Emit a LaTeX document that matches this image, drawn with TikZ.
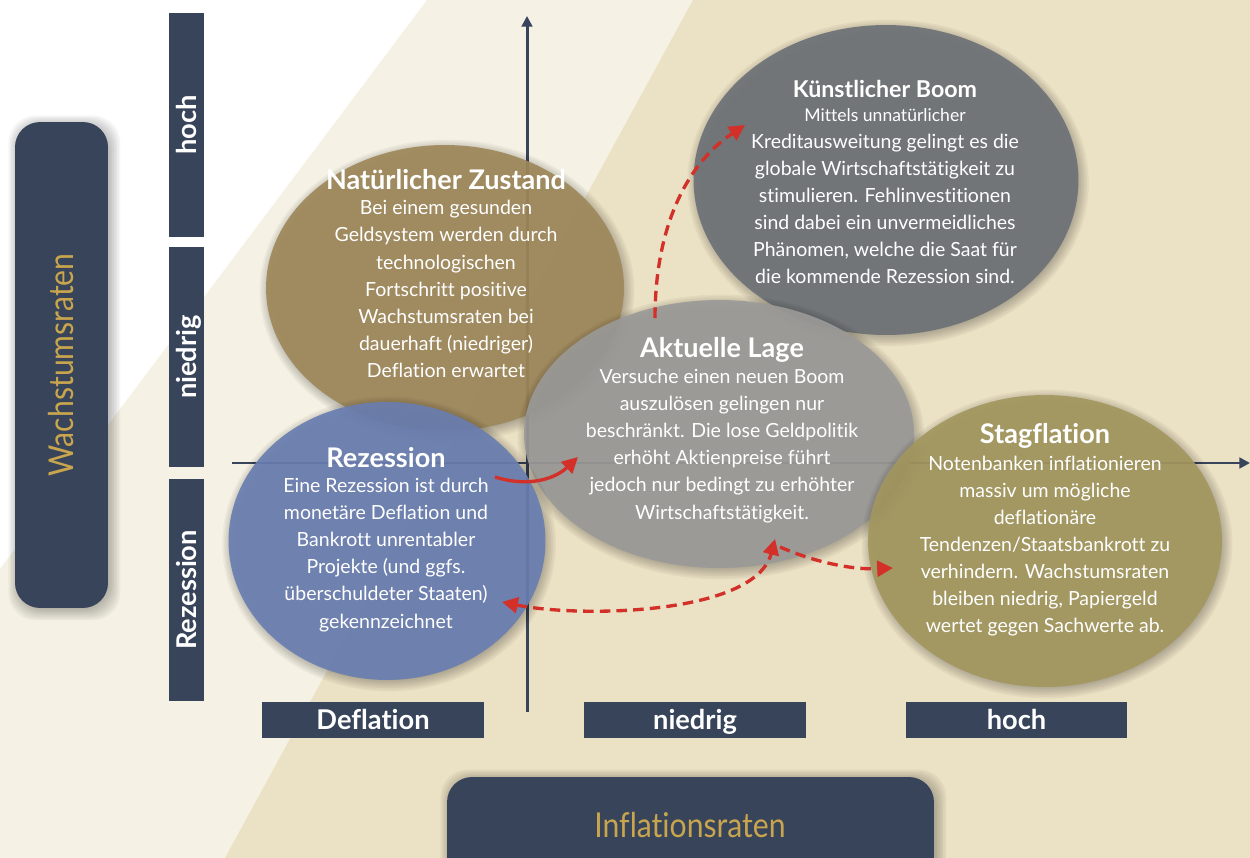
\documentclass[tikz,border=0pt]{standalone}
\usepackage{fontspec}
\setmainfont{Lato}[Ligatures=NoCommon]
\newfontfamily\goldfont{Lato}[FakeStretch=0.88,Ligatures=NoCommon]
\usetikzlibrary{shapes.geometric,arrows.meta}
\definecolor{cream}{HTML}{F5F1E4}
\definecolor{beige}{HTML}{EBE1C4}
\definecolor{navy}{HTML}{37445A}
\definecolor{gold}{HTML}{C9A64E}
\definecolor{natbrown}{HTML}{9F885B}
\definecolor{boomgray}{HTML}{6D7277}
\definecolor{lagegray}{HTML}{9B9A98}
\definecolor{rezblue}{HTML}{6A7EB0}
\definecolor{stagolive}{HTML}{A3975F}
\definecolor{arrowred}{HTML}{D3302A}
% soft shadow under an ellipse: centre x, centre y, x radius, y radius (px)
\newcommand{\ellshadow}[4]{%
  \foreach \k in {1,...,9}{%
    \fill[black, opacity=0.035] (#1+2,#2+3) ellipse [x radius={#3-6+1.6*\k}, y radius={#4-6+1.6*\k}];}}
\begin{document}
\begin{tikzpicture}[x=0.02cm,y=-0.02cm,
  bar/.style={fill=navy, inner sep=0pt, text=white, text height=11.2pt, text depth=0pt,
    font=\fontsize{15.5}{17}\selectfont\bfseries},
  vbar/.style={bar, rotate=90, minimum height=0.7cm},
  hbar/.style={bar, minimum width=4.44cm, minimum height=0.72cm},
  bigbox/.style={fill=navy, rounded corners=0.5cm, inner sep=0pt, text=gold,
    font=\goldfont\fontsize{19.5}{22}\selectfont},
  blob/.style={ellipse, inner sep=0pt, draw=none, fill opacity=0.92},
  ttl/.style={text=white, font=\fontsize{15.4}{18}\selectfont\bfseries, inner sep=0pt},
  body/.style={text=white, align=center, font=\fontsize{11.1}{15.4}\selectfont, inner sep=0pt},
  axisline/.style={draw=navy, line width=1.7pt, -{Triangle[length=6pt,width=6pt]}},
  redarrow/.style={draw=arrowred, line width=1.9pt, -{Triangle[length=9pt,width=9pt]}},
  reddash/.style={redarrow, dash pattern=on 6pt off 3.5pt}
]
\useasboundingbox (0,0) rectangle (1250,858);
% background
\fill[white] (0,0) rectangle (1250,858);
\fill[cream] (427,0) -- (1250,0) -- (1250,858) -- (0,858) -- (0,569) -- cycle;
\fill[beige] (693,0) -- (1250,0) -- (1250,858) -- (225,858) -- cycle;

% axis title boxes
\foreach \k in {1,...,9}{\fill[black, opacity=0.035, rounded corners=0.55cm] ({15+4-1.4*\k+2},{122+4-1.4*\k+2}) rectangle ({108-4+1.6*\k+2},{608-4+1.6*\k+2});}
\node[bigbox, rotate=90, minimum width=9.72cm, minimum height=1.86cm] (wachs) at (61.5,365) {Wachstumsraten};
\foreach \k in {1,...,9}{\fill[black, opacity=0.035, rounded corners=0.55cm] ({447+4-1.4*\k+2},{777+4-1.4*\k+1}) rectangle ({934-4+1.6*\k+2},{940});}
\node[bigbox, minimum width=9.74cm, minimum height=3.2cm] (inflbox) at (690.5,857) {};
\node[text=gold, font=\goldfont\fontsize{19.5}{22}\selectfont, inner sep=0pt] (infl) at (690,825) {Inflationsraten};

% level bars
\node[vbar, minimum width=4.48cm] (yhoch) at (186.5,125) {hoch};
\node[vbar, minimum width=4.40cm] (yniedrig) at (186.5,357) {niedrig};
\node[vbar, minimum width=4.44cm] (yrez) at (186.5,590) {Rezession};
\node[hbar] (xdefl) at (373,720) {Deflation};
\node[hbar] (xniedrig) at (695,720) {niedrig};
\node[hbar] (xhoch) at (1016.5,720) {hoch};

% axes
\coordinate (yb) at (527,712);
\coordinate (yt) at (527,16);
\coordinate (xl) at (232,463);
\coordinate (xr) at (1250,463);
\draw[axisline] (yb) -- (yt);
\draw[axisline] (xl) -- (xr);

% ellipses
\ellshadow{445}{288}{179}{143}
\node[blob, fill=natbrown, minimum width=7.16cm, minimum height=5.72cm] (nat) at (445,288) {};
\ellshadow{886}{180}{192.5}{155}
\node[blob, fill=boomgray, minimum width=7.70cm, minimum height=6.2cm] (boom) at (886,180) {};
\ellshadow{719}{434}{195}{134}
\node[blob, fill=lagegray, minimum width=7.8cm, minimum height=5.36cm] (lage) at (719,434) {};
\ellshadow{387}{541}{158.5}{139}
\node[blob, fill=rezblue, minimum width=6.34cm, minimum height=5.56cm] (rez) at (387,541) {};
\ellshadow{1045}{541}{177}{146}
\node[blob, fill=stagolive, minimum width=7.08cm, minimum height=5.84cm] (stag) at (1045,541) {};

% texts
\node[ttl] (natT) at (446,180) {Natürlicher Zustand};
\node[body] (natB) at (446,289) {Bei einem gesunden\\Geldsystem werden durch\\technologischen\\Fortschritt positive\\Wachstumsraten bei\\dauerhaft (niedriger)\\Deflation erwartet};

\node[ttl, font=\fontsize{13.2}{15}\selectfont\bfseries] (boomT) at (885,89) {Künstlicher Boom};
\node[body] (boomB) at (885,196) {{\fontsize{10}{12}\selectfont Mittels unnatürlicher}\\Kreditausweitung gelingt es die\\globale Wirtschaftstätigkeit zu\\stimulieren. Fehlinvestitionen\\sind dabei ein unvermeidliches\\Phänomen, welche die Saat für\\die kommende Rezession sind.};

\node[ttl] (lageT) at (722,350) {Aktuelle Lage};
\node[body] (lageB) at (722,446) {Versuche einen neuen Boom\\auszulösen gelingen nur\\beschränkt. Die lose Geldpolitik\\erhöht Aktienpreise führt\\jedoch nur bedingt zu erhöhter\\Wirtschaftstätigkeit.};

\node[ttl] (rezT) at (386,458) {Rezession};
\node[body] (rezB) at (386,555) {Eine Rezession ist durch\\monetäre Deflation und\\Bankrott unrentabler\\Projekte (und ggfs.\\überschuldeter Staaten)\\gekennzeichnet};

\node[ttl] (stagT) at (1045,436) {Stagflation};
\node[body] (stagB) at (1045,546) {Notenbanken inflationieren\\massiv um mögliche\\deflationäre\\Tendenzen/Staatsbankrott zu\\verhindern. Wachstumsraten\\bleiben niedrig, Papiergeld\\wertet gegen Sachwerte ab.};

% red arrows
\coordinate (a1s) at (655,318);
\coordinate (a1e) at (745,125);
\draw[reddash] (a1s) .. controls (655,230) and (685,165) .. (a1e);

\coordinate (a2s) at (495,477);
\coordinate (a2e) at (578,457);
\draw[redarrow] (a2s) .. controls (530,488) and (556,478) .. (a2e);

\coordinate (a3l) at (502,602);
\coordinate (a3m) at (775,539);
\draw[reddash, {Triangle[length=9pt,width=9pt]}-{Triangle[length=9pt,width=9pt]}] (a3l) .. controls (580,618) and (755,615) .. (a3m);

\coordinate (a4s) at (780,547);
\coordinate (a4e) at (893,568);
\draw[reddash] (a4s) .. controls (812,561) and (850,570) .. (a4e);
\end{tikzpicture}
\end{document}
